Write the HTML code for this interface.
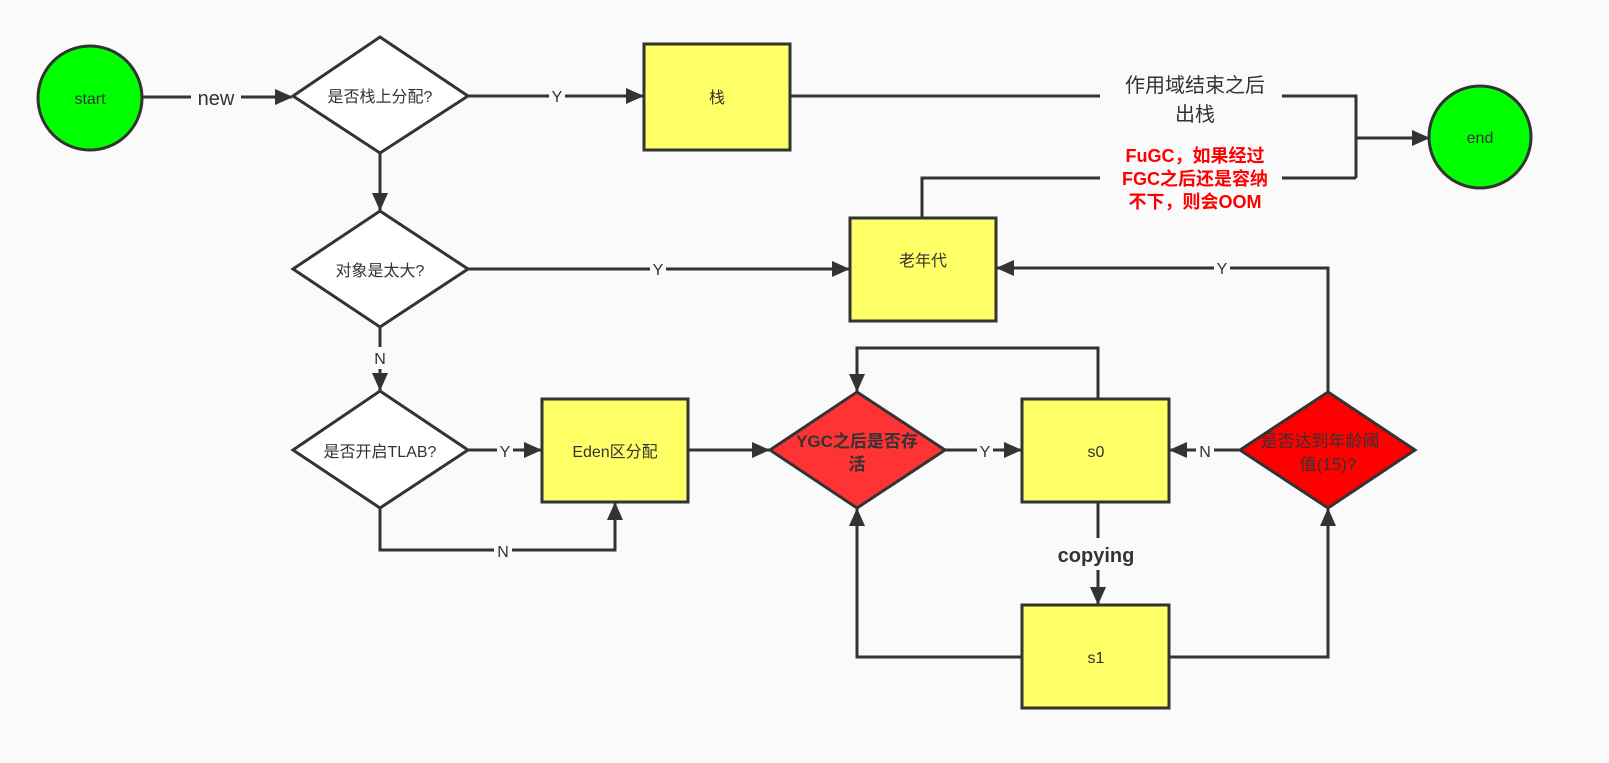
<!DOCTYPE html>
<html><head><meta charset="utf-8"><style>
html,body{margin:0;padding:0;background:#fafafa;}
svg{display:block;}
text{font-family:"Liberation Sans","Noto Sans CJK SC",sans-serif;fill:#333;}
</style></head><body>
<svg width="1609" height="763" viewBox="0 0 1609 763" xmlns="http://www.w3.org/2000/svg">
<defs>
<marker id="a" markerWidth="18" markerHeight="16" refX="17" refY="8" orient="auto" markerUnits="userSpaceOnUse">
<path d="M0,0 L18,8 L0,16 Z" fill="#333"/>
</marker>
</defs>
<rect width="1609" height="763" fill="#fafafa"/>
<g stroke="#333" stroke-width="3" fill="none">
<line x1="142" y1="97" x2="292" y2="97" marker-end="url(#a)"/>
<line x1="468" y1="96" x2="643" y2="96" marker-end="url(#a)"/>
<line x1="380" y1="153" x2="380" y2="210" marker-end="url(#a)"/>
<polyline points="790,96 1356,96 1356,178"/>
<line x1="1356" y1="138" x2="1429" y2="138" marker-end="url(#a)"/>
<polyline points="922,218 922,178 1356,178"/>
<line x1="468" y1="269" x2="849" y2="269" marker-end="url(#a)"/>
<line x1="380" y1="327" x2="380" y2="390" marker-end="url(#a)"/>
<line x1="468" y1="450" x2="541" y2="450" marker-end="url(#a)"/>
<polyline points="380,508 380,550 615,550 615,503" marker-end="url(#a)"/>
<line x1="688" y1="450" x2="769" y2="450" marker-end="url(#a)"/>
<line x1="945" y1="450" x2="1021" y2="450" marker-end="url(#a)"/>
<polyline points="1098,399 1098,348 857,348 857,391" marker-end="url(#a)"/>
<line x1="1098" y1="502" x2="1098" y2="604" marker-end="url(#a)"/>
<polyline points="1022,657 857,657 857,509" marker-end="url(#a)"/>
<polyline points="1169,657 1328,657 1328,509" marker-end="url(#a)"/>
<line x1="1240" y1="450" x2="1170" y2="450" marker-end="url(#a)"/>
<polyline points="1328,392 1328,268 997,268" marker-end="url(#a)"/>
</g>
<g fill="#fafafa">
<rect x="191" y="84" width="50" height="28"/>
<rect x="549" y="85" width="16" height="22"/>
<rect x="1100" y="66" width="182" height="64"/>
<rect x="1100" y="140" width="182" height="74"/>
<rect x="650" y="258" width="16" height="22"/>
<rect x="372" y="347" width="16" height="22"/>
<rect x="497" y="439" width="16" height="22"/>
<rect x="494" y="539" width="18" height="22"/>
<rect x="977" y="439" width="16" height="22"/>
<rect x="1196" y="439" width="18" height="22"/>
<rect x="1214" y="257" width="16" height="22"/>
<rect x="1050" y="538" width="92" height="32"/>
</g>
<g stroke="#333" stroke-width="3">
<circle cx="90" cy="98" r="52" fill="#00ff00"/>
<circle cx="1480" cy="137" r="51" fill="#00ff00"/>
<polygon points="380,37 468,96 380,153 293,96" fill="#fff"/>
<polygon points="380,211 468,269 380,327 293,269" fill="#fff"/>
<polygon points="380,391 468,450 380,508 293,450" fill="#fff"/>
<rect x="644" y="44" width="146" height="106" fill="#ffff66"/>
<rect x="850" y="218" width="146" height="103" fill="#ffff66"/>
<rect x="542" y="399" width="146" height="103" fill="#ffff66"/>
<polygon points="857,392 945,450 857,508 770,450" fill="#ff3333"/>
<rect x="1022" y="399" width="147" height="103" fill="#ffff66"/>
<rect x="1022" y="605" width="147" height="103" fill="#ffff66"/>
<polygon points="1328,392 1415,450 1328,508 1240,450" fill="#ff0000"/>
</g>
<g font-size="16" text-anchor="middle">
<text x="90" y="104">start</text>
<text x="1480" y="143">end</text>
<text x="380" y="102">是否栈上分配?</text>
<text x="380" y="276">对象是太大?</text>
<text x="380" y="457">是否开启TLAB?</text>
<text x="717" y="103">栈</text>
<text x="923" y="266">老年代</text>
<text x="615" y="457">Eden区分配</text>
<text x="1096" y="457">s0</text>
<text x="1096" y="663">s1</text>
<text x="1320" y="447" font-size="17">是否达到年龄阈</text>
<text x="1328" y="470" font-size="17">值(15)?</text>
<text x="857" y="447" font-size="17" font-weight="bold">YGC之后是否存</text>
<text x="857" y="470" font-size="17" font-weight="bold">活</text>
<text x="557" y="102">Y</text>
<text x="658" y="275">Y</text>
<text x="380" y="364">N</text>
<text x="505" y="457">Y</text>
<text x="503" y="557">N</text>
<text x="985" y="457">Y</text>
<text x="1205" y="457">N</text>
<text x="1222" y="274">Y</text>
<text x="216" y="105" font-size="20">new</text>
<text x="1195" y="92" font-size="20">作用域结束之后</text>
<text x="1195" y="121" font-size="20">出栈</text>
<text x="1096" y="562" font-size="20" font-weight="bold">copying</text>
</g>
<g font-size="18" font-weight="bold" text-anchor="middle">
<text x="1195" y="162" style="fill:#ff0000">FuGC，如果经过</text>
<text x="1195" y="185" style="fill:#ff0000">FGC之后还是容纳</text>
<text x="1195" y="208" style="fill:#ff0000">不下，则会OOM</text>
</g>
</svg>
</body></html>
